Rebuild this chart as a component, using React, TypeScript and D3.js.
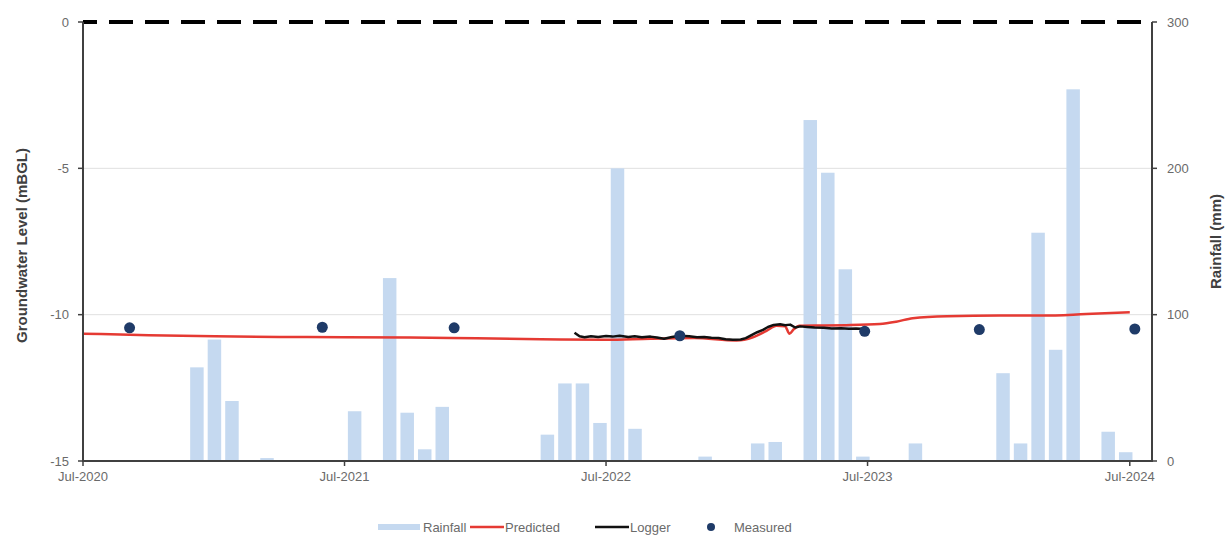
import React from "react";
import * as d3 from "d3";

// ---------- DATA ----------
// Monthly rainfall (mm), sequential periods drawn on the secondary category axis
const rainfall: number[] = [
  0, 0, 0, 0, 0, 0, 64, 83, 41, 0,
  2, 0, 0, 0, 0, 34, 0, 125, 33, 8,
  37, 0, 0, 0, 0, 0, 18, 53, 53, 26,
  200, 22, 0, 0, 0, 3, 0, 0, 12, 13,
  0, 233, 197, 131, 3, 0, 0, 12, 0, 0,
  0, 0, 60, 12, 156, 76, 254, 0, 20, 6,
  0,
];

const predictedDates: string[] = [
  "2020-07-01", "2020-10-01", "2021-01-01", "2021-04-01", "2021-07-01", "2021-10-01",
  "2022-01-01", "2022-04-01", "2022-07-01", "2022-09-01", "2022-11-01", "2022-12-30",
  "2023-01-22", "2023-02-10", "2023-02-24", "2023-03-08", "2023-03-14", "2023-03-20",
  "2023-03-28", "2023-05-01", "2023-06-01", "2023-07-18", "2023-08-10", "2023-09-02",
  "2023-10-20", "2024-01-01", "2024-03-01", "2024-05-01", "2024-07-01",
];
const predictedValues: number[] = [
  -10.65, -10.7, -10.74, -10.76, -10.77, -10.78,
  -10.81, -10.84, -10.86, -10.82, -10.8, -10.88,
  -10.77, -10.55, -10.38, -10.4, -10.65, -10.5,
  -10.38, -10.37, -10.36, -10.32, -10.24, -10.12,
  -10.05, -10.03, -10.03, -9.98, -9.92,
];

const loggerDates: string[] = [
  "2022-05-18", "2022-05-25", "2022-06-01", "2022-06-10", "2022-06-20", "2022-07-01",
  "2022-07-10", "2022-07-20", "2022-08-01", "2022-08-10", "2022-08-20", "2022-09-01",
  "2022-09-10", "2022-09-20", "2022-10-01", "2022-10-12", "2022-10-25", "2022-11-05",
  "2022-11-15", "2022-11-25", "2022-12-05", "2022-12-15", "2022-12-25", "2023-01-05",
  "2023-01-12", "2023-01-20", "2023-01-28", "2023-02-05", "2023-02-12", "2023-02-20",
  "2023-03-01", "2023-03-08", "2023-03-15", "2023-03-22", "2023-03-29", "2023-04-08",
  "2023-04-18", "2023-05-01", "2023-05-12", "2023-05-25", "2023-06-05", "2023-06-15",
  "2023-06-27",
];
const loggerValues: number[] = [
  -10.62, -10.74, -10.77, -10.74, -10.76, -10.73,
  -10.75, -10.72, -10.76, -10.74, -10.77, -10.75,
  -10.78, -10.82, -10.76, -10.72, -10.74, -10.77,
  -10.76, -10.79, -10.8, -10.84, -10.86, -10.85,
  -10.8, -10.7, -10.6, -10.52, -10.42, -10.35,
  -10.33, -10.36, -10.34, -10.44, -10.4, -10.42,
  -10.44, -10.45, -10.47, -10.46, -10.48, -10.47,
  -10.49,
];

const measuredDates: string[] = [
  "2020-09-04", "2021-05-31", "2021-12-01", "2022-10-12", "2023-06-27", "2023-12-04", "2024-07-08",
];
const measuredValues: number[] = [-10.45, -10.43, -10.45, -10.72, -10.57, -10.51, -10.49];

const levelTicks: number[] = [0, -5, -10, -15];
const rainTicks: number[] = [0, 100, 200, 300];
const yearTickDates: string[] = ["2020-07-01", "2021-07-01", "2022-07-01", "2023-07-01", "2024-07-01"];
const yearTickLabels: string[] = ["Jul-2020", "Jul-2021", "Jul-2022", "Jul-2023", "Jul-2024"];
const gridLevels: number[] = [-5, -10];

// ---------- LAYOUT ----------
const W = 1231;
const H = 538;
const X0 = 83;
const X1 = 1152;
const Y0 = 22;
const Y1 = 461;
const FONT = "'Liberation Sans', Arial, sans-serif";
const GREY = "#6a6a6a";

const parse = d3.utcParse("%Y-%m-%d");

export default function App() {
  const x = d3
    .scaleUtc()
    .domain([parse("2020-07-01")!, parse("2024-08-01")!])
    .range([X0, X1]);
  const yL = d3.scaleLinear().domain([-15, 0]).range([Y1, Y0]);
  const yR = d3.scaleLinear().domain([0, 300]).range([Y1, Y0]);
  const xb = d3
    .scaleBand<number>()
    .domain(d3.range(rainfall.length))
    .range([X0, X1])
    .paddingInner(0.23)
    .paddingOuter(0.115);

  const line = d3
    .line<[Date, number]>()
    .x((d) => x(d[0]))
    .y((d) => yL(d[1]))
    .curve(d3.curveMonotoneX);

  const predicted: [Date, number][] = predictedDates.map((d, i) => [parse(d)!, predictedValues[i]]);
  const logger: [Date, number][] = loggerDates.map((d, i) => [parse(d)!, loggerValues[i]]);
  const measured: [Date, number][] = measuredDates.map((d, i) => [parse(d)!, measuredValues[i]]);

  const legendY = 527;

  return (
    <div style={{ position: "absolute", left: 0, top: 0, width: W, height: H, overflow: "hidden", background: "#fff" }}>
      <svg width={W} height={H} style={{ display: "block" }} fontFamily={FONT}>
        <rect x={0} y={0} width={W} height={H} fill="#fff" />
        {/* gridlines */}
        {gridLevels.map((v) => (
          <line key={v} x1={X0} x2={X1} y1={yL(v)} y2={yL(v)} stroke="#e0e0e0" strokeWidth={1} />
        ))}
        {/* rainfall bars */}
        {rainfall.map((v, i) =>
          v > 0 ? (
            <rect
              key={i}
              x={xb(i)!}
              y={yR(v)}
              width={xb.bandwidth()}
              height={yR(0) - yR(v)}
              fill="#c5d9f0"
            />
          ) : null
        )}
        {/* zero dashed line */}
        <line x1={X0} x2={X1} y1={yL(0)} y2={yL(0)} stroke="#000" strokeWidth={4} strokeDasharray="24 12" strokeDashoffset={10} />
        {/* predicted */}
        <path d={line(predicted)!} fill="none" stroke="#e53a33" strokeWidth={2.5} />
        {/* logger */}
        <path d={d3.line<[Date, number]>().x((d) => x(d[0])).y((d) => yL(d[1]))(logger)!} fill="none" stroke="#111" strokeWidth={2.5} strokeLinejoin="round" />
        {/* measured */}
        {measured.map((d, i) => (
          <circle key={i} cx={x(d[0])} cy={yL(d[1])} r={5.5} fill="#1f3b68" />
        ))}
        {/* axes */}
        <line x1={X0} x2={X0} y1={Y0} y2={Y1 + 1} stroke="#404040" strokeWidth={2} />
        <line x1={X1} x2={X1} y1={Y0} y2={Y1 + 1} stroke="#404040" strokeWidth={2} />
        <line x1={X0} x2={X1} y1={Y1} y2={Y1} stroke="#404040" strokeWidth={2} />
        {levelTicks.map((v) => (
          <g key={v}>
            <line x1={X0 - 5} x2={X0} y1={yL(v)} y2={yL(v)} stroke="#404040" strokeWidth={1.5} />
            <text x={X0 - 14} y={yL(v)} dy="0.35em" textAnchor="end" fontSize={13} fill={GREY}>
              {v}
            </text>
          </g>
        ))}
        {rainTicks.map((v) => (
          <g key={v}>
            <line x1={X1} x2={X1 + 5} y1={yR(v)} y2={yR(v)} stroke="#404040" strokeWidth={1.5} />
            <text x={X1 + 15} y={yR(v)} dy="0.35em" textAnchor="start" fontSize={13} fill={GREY}>
              {v}
            </text>
          </g>
        ))}
        {yearTickDates.map((d, i) => (
          <g key={d}>
            <line x1={x(parse(d)!)} x2={x(parse(d)!)} y1={Y1} y2={Y1 + 5} stroke="#404040" strokeWidth={1.5} />
            <text x={x(parse(d)!)} y={Y1 + 20} textAnchor="middle" fontSize={13} fill={GREY}>
              {yearTickLabels[i]}
            </text>
          </g>
        ))}
        {/* axis titles */}
        <text
          transform={`translate(22,${(Y0 + Y1) / 2 + 4}) rotate(-90)`}
          textAnchor="middle"
          dy="0.35em"
          fontSize={15}
          fontWeight="bold"
          fill="#404040"
        >
          Groundwater Level (mBGL)
        </text>
        <text
          transform={`translate(1216,${(Y0 + Y1) / 2}) rotate(-90)`}
          textAnchor="middle"
          dy="0.35em"
          fontSize={15}
          fontWeight="bold"
          fill="#404040"
        >
          Rainfall (mm)
        </text>
        {/* legend */}
        <g fontSize={13} fill={GREY}>
          <rect x={378} y={legendY - 3} width={42} height={6} fill="#c5d9f0" />
          <text x={423} y={legendY} dy="0.35em">Rainfall</text>
          <line x1={470} x2={504} y1={legendY} y2={legendY} stroke="#e53a33" strokeWidth={2.5} />
          <text x={505} y={legendY} dy="0.35em">Predicted</text>
          <line x1={595} x2={629} y1={legendY} y2={legendY} stroke="#111" strokeWidth={2.5} />
          <text x={630} y={legendY} dy="0.35em">Logger</text>
          <circle cx={711} cy={legendY} r={4} fill="#1f3b68" />
          <text x={734} y={legendY} dy="0.35em">Measured</text>
        </g>
      </svg>
    </div>
  );
}
